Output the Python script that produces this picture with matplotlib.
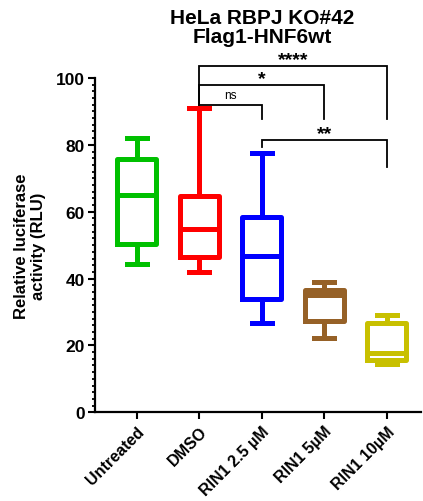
import matplotlib
matplotlib.use("Agg")
import matplotlib.pyplot as plt
from matplotlib.ticker import MultipleLocator

plt.rcParams['font.family'] = ['Liberation Sans', 'DejaVu Sans']
plt.rcParams['font.weight'] = 'bold'

categories = ["Untreated", "DMSO", "RIN1 2.5 \u00b5M", "RIN1 5\u00b5M", "RIN1 10\u00b5M"]
whislo = [44.4, 41.9, 26.6, 22.2, 14.3]
q1 = [50.4, 46.4, 33.9, 27.4, 15.5]
med = [64.9, 54.9, 46.9, 35.0, 17.7]
q3 = [75.9, 64.6, 58.5, 36.7, 26.6]
whishi = [82.0, 90.9, 77.6, 38.9, 29.2]
colors = ["#00C000", "#FF0000", "#0000FF", "#966127", "#C8C000"]

# significance comparisons: (i, j, label, bar height, left leg bottom, right leg bottom)
comparisons = [
    (1, 2, "ns", 91.8, 91.8, 87.8),
    (1, 3, "*", 98.0, 91.8, 87.8),
    (1, 4, "****", 103.7, 91.8, 87.6),
    (2, 4, "**", 81.6, 79.3, 73.5),
]

fig = plt.figure(figsize=(4.23, 5.02), dpi=100)
ax = fig.add_axes([94.5 / 423, 1 - 413.3 / 502, (421 - 94.5) / 423, (413.3 - 79) / 502])

stats = []
for i in range(len(categories)):
    stats.append(dict(med=med[i], q1=q1[i], q3=q3[i], whislo=whislo[i], whishi=whishi[i], label=categories[i]))

for i, s in enumerate(stats):
    c = colors[i]
    lw = 3.6
    ax.bxp([s], positions=[i], widths=0.62, showfliers=False, patch_artist=False,
           boxprops=dict(color=c, linewidth=lw),
           whiskerprops=dict(color=c, linewidth=lw),
           capprops=dict(color=c, linewidth=lw),
           medianprops=dict(color=c, linewidth=lw),
           capwidths=0.32, manage_ticks=False)

ax.set_xlim(-0.675, 4.55)
ax.set_ylim(0, 100)
ax.set_xticks(range(len(categories)))
ax.set_xticklabels(categories, rotation=45, ha='right', rotation_mode='anchor',
                   fontsize=11.5, fontweight='bold')
ax.set_yticks([0, 20, 40, 60, 80, 100])
ax.yaxis.set_minor_locator(MultipleLocator(2))
ax.tick_params(axis='y', which='major', length=5, width=1.5, labelsize=12.5, pad=2)
ax.tick_params(axis='y', which='minor', length=2.5, width=1.3)
ax.tick_params(axis='x', which='major', length=5, width=1.5, pad=3)
for lab in ax.get_yticklabels():
    lab.set_fontweight('bold')
for sp in ['top', 'right']:
    ax.spines[sp].set_visible(False)
for sp in ['left', 'bottom']:
    ax.spines[sp].set_linewidth(1.6)

ax.set_ylabel("Relative luciferase\nactivity (RLU)", fontsize=12, fontweight='bold', labelpad=7)

for (i, j, lab, h, lb, rb) in comparisons:
    ax.plot([i, i, j, j], [lb, h, h, rb], color='black', linewidth=1.3, clip_on=False,
            solid_joinstyle='miter')
    if lab == "ns":
        ax.annotate(lab, xy=((i + j) / 2, h), xytext=(0, 5.5), textcoords='offset points',
                    ha='center', va='baseline', fontsize=8.5, fontweight='normal',
                    annotation_clip=False)
    else:
        ax.annotate(lab, xy=((i + j) / 2, h), xytext=(0, 1.2), textcoords='offset points',
                    ha='center', va='baseline', fontsize=14, fontweight='bold',
                    annotation_clip=False)

fig.text(262 / 423, 1 - 9 / 502, "HeLa RBPJ KO#42\nFlag1-HNF6wt", ha='center', va='top',
         fontsize=15, fontweight='bold', linespacing=1.0)

fig.savefig("out.png", dpi=100)
